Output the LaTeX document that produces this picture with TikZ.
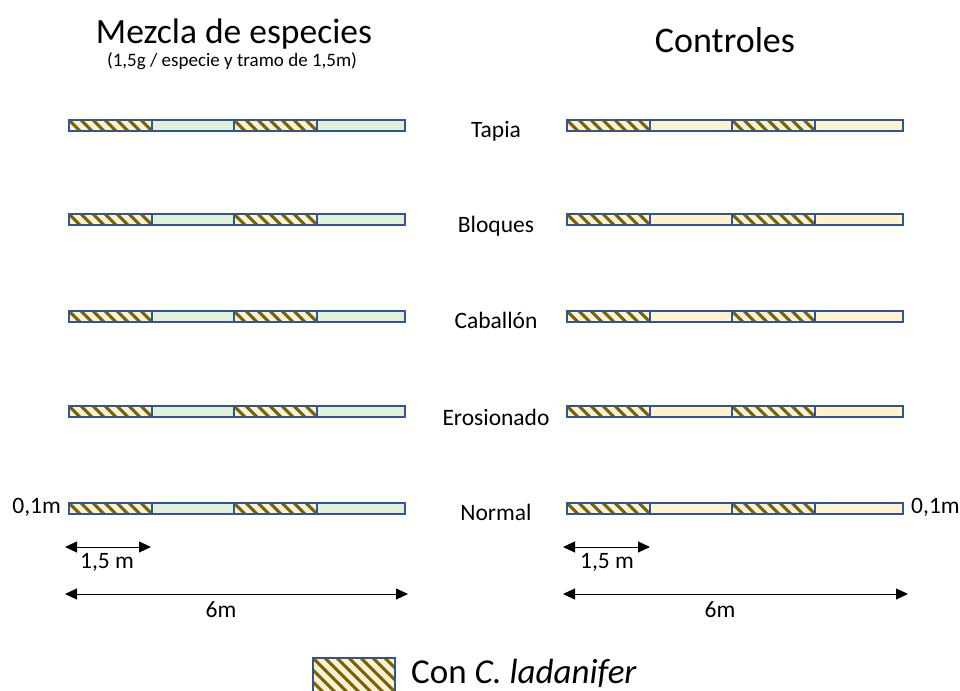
\documentclass[tikz,border=0pt]{standalone}
\usepackage{fontspec}
\setmainfont{Carlito}
\usetikzlibrary{arrows.meta}
\definecolor{stripblue}{HTML}{2F5597}
\definecolor{mixfill}{HTML}{E2EFDA}
\definecolor{ctrlfill}{HTML}{FFF2CC}
\definecolor{hatchbrown}{HTML}{7F6000}
\definecolor{hatchbgcol}{HTML}{F7F3D6}
\newcommand\hatchrect[5]{% x1 y1 x2 y2 spacing
  \begin{scope}
    \clip (#1,#2) rectangle (#3,#4);
    \fill[hatchbgcol] (#1,#2) rectangle (#3,#4);
    \pgfmathsetmacro\hh{#4-#2}
    \foreach \k in {-4,...,14}{
      \draw[hatchline] ({#1+\k*#5},#2) -- ++(\hh,\hh);
    }
  \end{scope}}
\newcommand\stripset[3]{% x-left y-top fill colour
  \pgfmathsetmacro\xa{#1}\pgfmathsetmacro\xb{#1+83}\pgfmathsetmacro\xc{#1+165}
  \pgfmathsetmacro\xd{#1+248}\pgfmathsetmacro\xe{#1+336}
  \pgfmathsetmacro\ya{#2}\pgfmathsetmacro\yb{#2+11}
  \fill[#3] (\xb,\ya) rectangle (\xc,\yb);
  \fill[#3] (\xd,\ya) rectangle (\xe,\yb);
  \hatchrect{\xa}{\ya}{\xb}{\yb}{12}
  \hatchrect{\xc}{\ya}{\xd}{\yb}{12}
  \draw[stripline] (\xa,\ya) rectangle (\xe,\yb);
  \draw[stripline] (\xb,\ya) -- (\xb,\yb) (\xc,\ya) -- (\xc,\yb) (\xd,\ya) -- (\xd,\yb);
}
\tikzset{
  hatchline/.style={hatchbrown, line width=3pt},
  stripline/.style={stripblue, line width=1.4pt},
  rowlabel/.style={font=\fontsize{23.5}{26}\selectfont, anchor=base},
  dimlabel/.style={font=\fontsize{23.5}{26}\selectfont, anchor=base},
  dimarrow/.style={{Triangle[length=12pt,width=11pt]}-{Triangle[length=12pt,width=11pt]}, line width=0.9pt},
}
\begin{document}
\begin{tikzpicture}[x=1pt,y=-1pt]
\useasboundingbox (0,0) rectangle (960,690);
\fill[white] (0,0) rectangle (960,690);
% titles
\node[font=\fontsize{35.5}{38}\selectfont, anchor=base, inner sep=0pt] (ttlmix) at (234,44) {Mezcla de especies};
\node[font=\fontsize{19}{22}\selectfont, anchor=base, inner sep=0pt] (ttlsub) at (232,67) {(1,5g / especie y tramo de 1,5m)};
\node[font=\fontsize{36}{38}\selectfont, anchor=base] (ttlctl) at (725,53) {Controles};
% strips
\foreach \yy in {120,214,311,406,503}{
  \stripset{69}{\yy}{mixfill}
  \stripset{567}{\yy}{ctrlfill}
}
% row labels
\node[rowlabel] (lt) at (496,137) {Tapia};
\node[rowlabel] (lb) at (496,232) {Bloques};
\node[rowlabel] (lc) at (496,328) {Caballón};
\node[rowlabel] (le) at (496,425) {Erosionado};
\node[rowlabel] (ln) at (496,520) {Normal};
% 0,1m labels
\node[dimlabel, anchor=base east, inner sep=0pt] (wl) at (61,513) {0,1m};
\node[dimlabel, anchor=base west, inner sep=0pt] (wr) at (911,513) {0,1m};
% dimension arrows
\coordinate (a1l) at (65,547); \coordinate (a1r) at (151,547);
\coordinate (a2l) at (65,594); \coordinate (a2r) at (408,594);
\coordinate (b1l) at (563,547); \coordinate (b1r) at (650,547);
\coordinate (b2l) at (563,594); \coordinate (b2r) at (908,594);
\draw[dimarrow] (a1l) -- (a1r);
\draw[dimarrow] (a2l) -- (a2r);
\draw[dimarrow] (b1l) -- (b1r);
\draw[dimarrow] (b2l) -- (b2r);
\node[dimlabel] (d1) at (107,568) {1,5 m};
\node[dimlabel] (d2) at (221,617) {6m};
\node[dimlabel] (d3) at (607,568) {1,5 m};
\node[dimlabel] (d4) at (720,617) {6m};
% legend
\hatchrect{313}{658}{395}{692}{12}
\draw[stripblue, line width=1.2pt] (313,658) rectangle (395,694);
\node[anchor=base west, inner sep=0pt, font=\fontsize{35}{38}\selectfont] (leg) at (411,683) {Con \textit{C. ladanifer}};
\end{tikzpicture}
\end{document}
